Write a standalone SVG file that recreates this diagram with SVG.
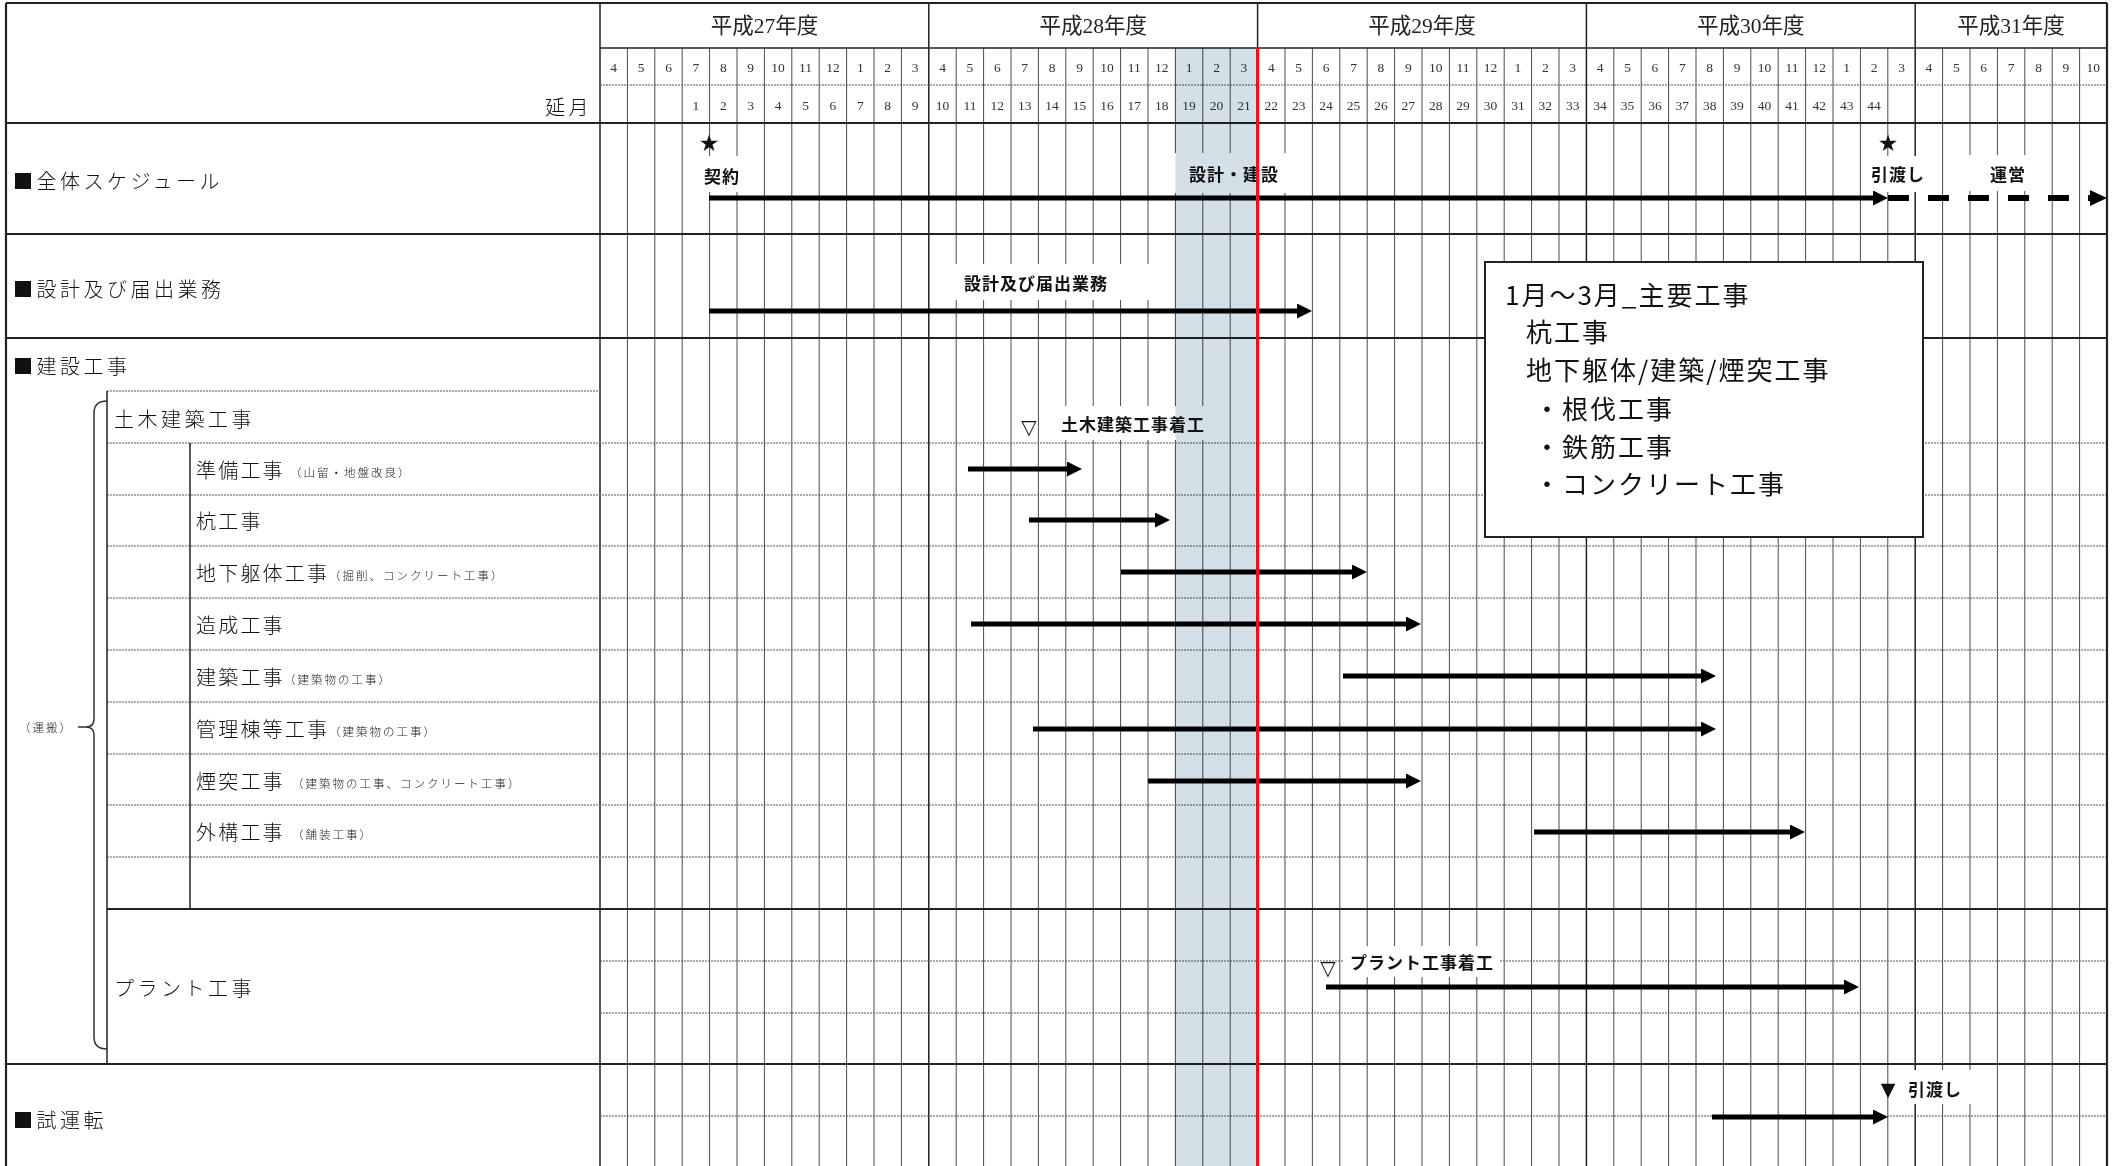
<svg xmlns="http://www.w3.org/2000/svg" width="2119" height="1166" viewBox="0 0 2119 1166">
<style>
.yr{font-family:"Liberation Serif","Noto Sans CJK JP",serif;font-size:21.5px;fill:#222;text-anchor:middle;dominant-baseline:central}
.mn{font-family:"Liberation Serif",serif;font-size:13.5px;fill:#333;text-anchor:middle;dominant-baseline:central}
.lb{font-family:"Noto Sans CJK JP",sans-serif;font-size:20px;font-weight:300;fill:#111;dominant-baseline:central;letter-spacing:3.5px}
.lb2{font-family:"Noto Sans CJK JP",sans-serif;font-size:20px;font-weight:300;fill:#111;dominant-baseline:central;letter-spacing:2.2px}
.pr{font-family:"Noto Sans CJK JP",sans-serif;font-size:11.5px;font-weight:300;fill:#222;dominant-baseline:central;letter-spacing:2px}
.bl{font-family:"Noto Sans CJK JP",sans-serif;font-size:17px;font-weight:700;fill:#111;text-anchor:middle;dominant-baseline:central;letter-spacing:1px}
.bx{font-family:"Noto Sans CJK JP",sans-serif;font-size:26px;font-weight:400;fill:#111;dominant-baseline:central;letter-spacing:2px}
.sym{font-family:"DejaVu Sans",sans-serif;fill:#111;text-anchor:middle;dominant-baseline:central}
.grid{stroke:#4a4a4a;stroke-width:1;fill:none}
.hdot{stroke:#555;stroke-width:1.2;stroke-dasharray:2 1;fill:none}
.solid{stroke:#222;stroke-width:1.5;fill:none}
.thick{stroke:#222;stroke-width:2.2;fill:none}
.bar{stroke:#000;stroke-width:5;fill:none;marker-end:url(#ah)}
.wb{fill:#fff}
</style>
<defs>
<marker id="ah" markerUnits="userSpaceOnUse" markerWidth="16" markerHeight="16" refX="3" refY="7.5" orient="auto">
<path d="M0,0 L15,7.5 L0,15 Z" fill="#000"/>
</marker>
</defs>
<rect x="0" y="0" width="2119" height="1166" fill="#fff"/>

<g id="grid">
<path class="grid" d="M627.4,48V1166M654.8,48V1166M682.2,48V1166M709.6,48V1166M737,48V1166M764.4,48V1166M791.8,48V1166M819.2,48V1166M846.6,48V1166M874,48V1166M901.4,48V1166M956.2,48V1166M983.6,48V1166M1011,48V1166M1038.4,48V1166M1065.8,48V1166M1093.2,48V1166M1120.6,48V1166M1148,48V1166M1175.4,48V1166M1202.8,48V1166M1230.2,48V1166M1285,48V1166M1312.4,48V1166M1339.8,48V1166M1367.2,48V1166M1394.6,48V1166M1422,48V1166M1449.4,48V1166M1476.8,48V1166M1504.2,48V1166M1531.6,48V1166M1559,48V1166M1613.8,48V1166M1641.2,48V1166M1668.6,48V1166M1696,48V1166M1723.4,48V1166M1750.8,48V1166M1778.2,48V1166M1805.6,48V1166M1833,48V1166M1860.4,48V1166M1887.8,48V1166M1942.6,48V1166M1970,48V1166M1997.4,48V1166M2024.8,48V1166M2052.2,48V1166M2079.6,48V1166"/>
<path class="solid" d="M928.8,3V1166M1257.6,3V1166M1586.4,3V1166M1915.2,3V1166M600,3V1166M600,48H2107"/>
<path class="hdot" d="M600,85H2107M107,391H600M107,443H2107M107,495H2107M107,546H2107M107,598H2107M107,650H2107M107,702H2107M107,754H2107M107,805H2107M107,857H2107M600,961H2107M600,1013H2107M600,1116H2107"/>
<path class="solid" d="M107,391V1064M190,443V909"/>
<path class="thick" d="M6,3H2107M6,3V1166M2107,3V1166M6,123H2107M6,234H2107M6,338H2107M107,909H2107M6,1064H2107"/>
</g>

<g id="header">
<text class="yr" x="764.4" y="26">平成27年度</text>
<text class="yr" x="1093.2" y="26">平成28年度</text>
<text class="yr" x="1422" y="26">平成29年度</text>
<text class="yr" x="1750.8" y="26">平成30年度</text>
<text class="yr" x="2011" y="26">平成31年度</text>
<text class="lb" x="592" y="106" text-anchor="end" letter-spacing="2">延月</text>
<g id="months">
<text class="mn" x="613.7" y="67">4</text><text class="mn" x="641.1" y="67">5</text><text class="mn" x="668.5" y="67">6</text><text class="mn" x="695.9" y="67">7</text><text class="mn" x="723.3" y="67">8</text><text class="mn" x="750.7" y="67">9</text><text class="mn" x="778.1" y="67">10</text><text class="mn" x="805.5" y="67">11</text><text class="mn" x="832.9" y="67">12</text><text class="mn" x="860.3" y="67">1</text><text class="mn" x="887.7" y="67">2</text><text class="mn" x="915.1" y="67">3</text>
<text class="mn" x="942.5" y="67">4</text><text class="mn" x="969.9" y="67">5</text><text class="mn" x="997.3" y="67">6</text><text class="mn" x="1024.7" y="67">7</text><text class="mn" x="1052.1" y="67">8</text><text class="mn" x="1079.5" y="67">9</text><text class="mn" x="1106.9" y="67">10</text><text class="mn" x="1134.3" y="67">11</text><text class="mn" x="1161.7" y="67">12</text><text class="mn" x="1189.1" y="67">1</text><text class="mn" x="1216.5" y="67">2</text><text class="mn" x="1243.9" y="67">3</text>
<text class="mn" x="1271.3" y="67">4</text><text class="mn" x="1298.7" y="67">5</text><text class="mn" x="1326.1" y="67">6</text><text class="mn" x="1353.5" y="67">7</text><text class="mn" x="1380.9" y="67">8</text><text class="mn" x="1408.3" y="67">9</text><text class="mn" x="1435.7" y="67">10</text><text class="mn" x="1463.1" y="67">11</text><text class="mn" x="1490.5" y="67">12</text><text class="mn" x="1517.9" y="67">1</text><text class="mn" x="1545.3" y="67">2</text><text class="mn" x="1572.7" y="67">3</text>
<text class="mn" x="1600.1" y="67">4</text><text class="mn" x="1627.5" y="67">5</text><text class="mn" x="1654.9" y="67">6</text><text class="mn" x="1682.3" y="67">7</text><text class="mn" x="1709.7" y="67">8</text><text class="mn" x="1737.1" y="67">9</text><text class="mn" x="1764.5" y="67">10</text><text class="mn" x="1791.9" y="67">11</text><text class="mn" x="1819.3" y="67">12</text><text class="mn" x="1846.7" y="67">1</text><text class="mn" x="1874.1" y="67">2</text><text class="mn" x="1901.5" y="67">3</text>
<text class="mn" x="1928.9" y="67">4</text><text class="mn" x="1956.3" y="67">5</text><text class="mn" x="1983.7" y="67">6</text><text class="mn" x="2011.1" y="67">7</text><text class="mn" x="2038.5" y="67">8</text><text class="mn" x="2065.9" y="67">9</text><text class="mn" x="2093.3" y="67">10</text>
</g>
<g id="elapsed">
<text class="mn" x="695.9" y="105">1</text><text class="mn" x="723.3" y="105">2</text><text class="mn" x="750.7" y="105">3</text><text class="mn" x="778.1" y="105">4</text><text class="mn" x="805.5" y="105">5</text><text class="mn" x="832.9" y="105">6</text><text class="mn" x="860.3" y="105">7</text><text class="mn" x="887.7" y="105">8</text><text class="mn" x="915.1" y="105">9</text>
<text class="mn" x="942.5" y="105">10</text><text class="mn" x="969.9" y="105">11</text><text class="mn" x="997.3" y="105">12</text><text class="mn" x="1024.7" y="105">13</text><text class="mn" x="1052.1" y="105">14</text><text class="mn" x="1079.5" y="105">15</text><text class="mn" x="1106.9" y="105">16</text><text class="mn" x="1134.3" y="105">17</text><text class="mn" x="1161.7" y="105">18</text><text class="mn" x="1189.1" y="105">19</text><text class="mn" x="1216.5" y="105">20</text><text class="mn" x="1243.9" y="105">21</text>
<text class="mn" x="1271.3" y="105">22</text><text class="mn" x="1298.7" y="105">23</text><text class="mn" x="1326.1" y="105">24</text><text class="mn" x="1353.5" y="105">25</text><text class="mn" x="1380.9" y="105">26</text><text class="mn" x="1408.3" y="105">27</text><text class="mn" x="1435.7" y="105">28</text><text class="mn" x="1463.1" y="105">29</text><text class="mn" x="1490.5" y="105">30</text><text class="mn" x="1517.9" y="105">31</text><text class="mn" x="1545.3" y="105">32</text><text class="mn" x="1572.7" y="105">33</text>
<text class="mn" x="1600.1" y="105">34</text><text class="mn" x="1627.5" y="105">35</text><text class="mn" x="1654.9" y="105">36</text><text class="mn" x="1682.3" y="105">37</text><text class="mn" x="1709.7" y="105">38</text><text class="mn" x="1737.1" y="105">39</text><text class="mn" x="1764.5" y="105">40</text><text class="mn" x="1791.9" y="105">41</text><text class="mn" x="1819.3" y="105">42</text><text class="mn" x="1846.7" y="105">43</text><text class="mn" x="1874.1" y="105">44</text>
</g>
</g>

<g id="row-labels">
<text class="lb" x="13" y="180">■全体スケジュール</text>
<text class="lb" x="13" y="288">■設計及び届出業務</text>
<text class="lb" x="13" y="365">■建設工事</text>
<text class="lb" x="114" y="418">土木建築工事</text>
<text class="lb2" x="196" y="469">準備工事</text><text class="pr" x="290" y="472">（山留・地盤改良）</text>
<text class="lb2" x="196" y="520">杭工事</text>
<text class="lb2" x="196" y="572">地下躯体工事</text><text class="pr" x="329" y="575">（掘削、コンクリート工事）</text>
<text class="lb2" x="196" y="624">造成工事</text>
<text class="lb2" x="196" y="676">建築工事</text><text class="pr" x="284" y="679">（建築物の工事）</text>
<text class="lb2" x="196" y="728">管理棟等工事</text><text class="pr" x="329" y="731">（建築物の工事）</text>
<text class="lb2" x="196" y="780">煙突工事</text><text class="pr" x="292" y="783">（建築物の工事、コンクリート工事）</text>
<text class="lb2" x="196" y="831">外構工事</text><text class="pr" x="292" y="834">（舗装工事）</text>
<text class="lb" x="114" y="987">プラント工事</text>
<text class="lb" x="13" y="1119">■試運転</text>
<text class="pr" x="46" y="727" text-anchor="middle" letter-spacing="0">（運搬）</text>
<path d="M107,401 Q94,401 94,413 V719 Q94,727 86,727 H78 M86,727 Q94,727 94,735 V1037 Q94,1049 107,1049" fill="none" stroke="#333" stroke-width="1.5"/>
</g>

<g id="label-boxes">
<rect class="wb" x="698" y="156" width="54" height="36"/>
<rect class="wb" x="1157" y="153" width="141" height="40"/>
<rect class="wb" x="1866" y="156" width="66" height="36"/>
<rect class="wb" x="1956" y="155" width="84" height="36"/>
<rect class="wb" x="955" y="264" width="195" height="36"/>
<rect class="wb" x="1042" y="406" width="178" height="34"/>
<rect class="wb" x="1343" y="946" width="157" height="31"/>
<rect class="wb" x="1902" y="1070" width="83" height="34"/>
</g>

<g id="note">
<rect x="1485" y="262" width="438" height="275" fill="#fff" stroke="#222" stroke-width="2"/>
<text class="bx" x="1505" y="293" letter-spacing="0">1月～3月_主要工事</text>
<text class="bx" x="1526" y="330">杭工事</text>
<text class="bx" x="1526" y="368">地下躯体/建築/煙突工事</text>
<text class="bx" x="1534" y="407">・根伐工事</text>
<text class="bx" x="1534" y="445">・鉄筋工事</text>
<text class="bx" x="1534" y="482">・コンクリート工事</text>
</g>

<g id="connectors">
<line class="bar" x1="709" y1="198" x2="1876" y2="198"/>
<line x1="1888" y1="198" x2="2092" y2="198" stroke="#000" stroke-width="6" stroke-dasharray="21 19"/>
<path d="M2090,190 L2107,198 L2090,206 Z" fill="#000"/>
<line class="bar" x1="709" y1="311" x2="1300" y2="311"/>
<line class="bar" x1="968" y1="469" x2="1070" y2="469"/>
<line class="bar" x1="1029" y1="520" x2="1158" y2="520"/>
<line class="bar" x1="1121" y1="572" x2="1355" y2="572"/>
<line class="bar" x1="971" y1="624" x2="1409" y2="624"/>
<line class="bar" x1="1343" y1="676" x2="1704" y2="676"/>
<line class="bar" x1="1033" y1="729" x2="1704" y2="729"/>
<line class="bar" x1="1148" y1="781" x2="1409" y2="781"/>
<line class="bar" x1="1534" y1="832" x2="1793" y2="832"/>
<line class="bar" x1="1326" y1="987" x2="1847" y2="987"/>
<line class="bar" x1="1712" y1="1117" x2="1876" y2="1117"/>
</g>

<g id="milestones">
<text class="sym" x="709" y="143" font-size="23">★</text>
<text class="bl" x="722" y="175">契約</text>
<text class="bl" x="1234" y="173">設計・建設</text>
<text class="sym" x="1888" y="143" font-size="23">★</text>
<text class="bl" x="1898" y="173">引渡し</text>
<text class="bl" x="2008" y="173">運営</text>
<text class="bl" x="1036" y="282">設計及び届出業務</text>
<text class="sym" x="1029" y="427" font-size="20">▽</text>
<text class="bl" x="1133" y="423">土木建築工事着工</text>
<text class="sym" x="1328" y="968" font-size="20">▽</text>
<text class="bl" x="1422" y="961">プラント工事着工</text>
<text class="sym" x="1888" y="1089" font-size="19">▼</text>
<text class="bl" x="1935" y="1088">引渡し</text>
</g>

<rect id="shade" x="1175.4" y="48" width="82.2" height="1118" fill="#d3e0e7" style="mix-blend-mode:multiply"/>
<line id="today" x1="1257.6" y1="48" x2="1257.6" y2="1166" stroke="#e8141b" stroke-width="3.2"/>
</svg>
